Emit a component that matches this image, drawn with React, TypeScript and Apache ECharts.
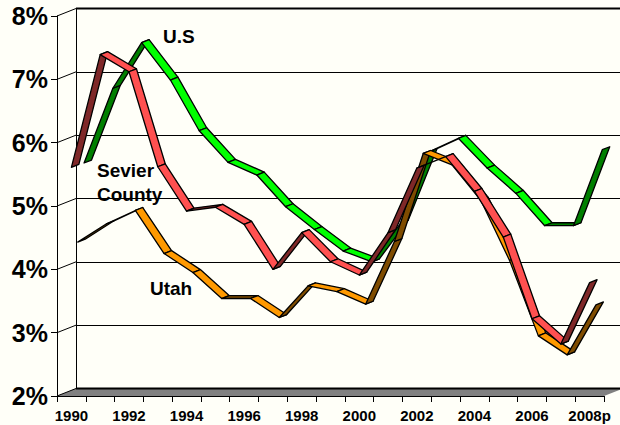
import React, { useEffect, useRef } from "react";
import * as echarts from "echarts";

const years = ["1990","1991","1992","1993","1994","1995","1996","1997","1998","1999","2000","2001","2002","2003","2004","2005","2006","2007","2008p"];
const sevier = [5.61,7.39,7.12,5.62,4.92,4.98,4.71,4.0,4.58,4.12,3.91,4.58,5.6,5.78,5.23,4.51,3.22,2.82,3.79];
const utah = [4.39,4.68,4.89,4.21,3.91,3.5,3.5,3.2,3.7,3.61,3.41,4.4,5.79,5.61,5.05,4.1,2.91,2.61,3.4];
const us = [5.6,6.78,7.5,6.91,6.11,5.61,5.41,4.91,4.55,4.21,4.04,4.65,5.78,5.99,5.52,5.12,4.61,4.61,5.81];
const yTicks = [2,3,4,5,6,7,8];

const BG = "#fffff8";
const DX = 19, DY = 7.5; // total chart depth
const SLOT = 3;
const WIDEN = 0.18; // ribbons are a little wider than their slot

function ribbon(name: string, values: number[], slot: number, bright: string, dark: string) {
  const a0 = slot / SLOT, a1 = (slot + 1 + WIDEN) / SLOT;
  return {
    type: "custom", name, xAxisIndex: 0, yAxisIndex: 0, clip: false, silent: true, z: 5,
    encode: { x: 0, y: 1 },
    data: values.slice(0, -1).map((v, i) => [i, v, values[i + 1]]),
    renderItem: (_p: any, api: any) => {
      const i = api.value(0);
      const v0 = api.value(1), v1 = api.value(2);
      const p0 = api.coord([i, v0]);
      const p1 = api.coord([i + 1, v1]);
      const pts = [
        [p0[0] + DX * a0, p0[1] - DY * a0],
        [p1[0] + DX * a0, p1[1] - DY * a0],
        [p1[0] + DX * a1, p1[1] - DY * a1],
        [p0[0] + DX * a1, p0[1] - DY * a1],
      ];
      return {
        type: "polygon",
        shape: { points: pts },
        style: { fill: v1 >= v0 ? dark : bright, stroke: "#000", lineWidth: 1.3, lineJoin: "round" },
      };
    },
  };
}

const wallSeries = {
  type: "custom", xAxisIndex: 0, yAxisIndex: 0, clip: false, silent: true, z: 1,
  encode: { x: 0, y: 1 },
  data: yTicks.map((v) => [0, v]),
  renderItem: (p: any, api: any) => {
    const cs = p.coordSys;
    const y = api.coord([0, api.value(1)])[1];
    const x = cs.x;
    const children: any[] = [
      { type: "line", shape: { x1: x, y1: y, x2: x + DX, y2: y - DY }, style: { stroke: "#000", lineWidth: 1 } },
    ];
    if (api.value(1) === 2) {
      children.unshift({
        type: "polygon",
        shape: { points: [[x, y], [x + DX, y - DY], [x + cs.width + DX, y - DY], [x + cs.width, y]] },
        style: { fill: "#808080", stroke: "none" },
      });
      children.push({ type: "line", shape: { x1: x + DX, y1: y - DY, x2: x + cs.width + DX, y2: y - DY }, style: { stroke: "#000", lineWidth: 2 } });
    }
    if (api.value(1) === 8) {
      children.push({ type: "line", shape: { x1: x + DX, y1: y - DY, x2: x + cs.width + DX, y2: y - DY }, style: { stroke: "#000", lineWidth: 2 } });
    }
    return { type: "group", children };
  },
};

const labelStyle = { fontFamily: "Liberation Sans", fontWeight: "bold", fontSize: 19, fill: "#000" };
const note = (text: string, x: number, y: number) => ({
  type: "text", x, y, z: 20,
  style: { ...labelStyle, text, textVerticalAlign: "middle" },
});

export default function App() {
  const ref = useRef<HTMLDivElement>(null);
  useEffect(() => {
    const chart = echarts.init(ref.current!, undefined, { renderer: "svg" });
    chart.setOption({
      animation: false,
      backgroundColor: BG,
      grid: [
        { left: 57, top: 16, width: 547, height: 380 },
        { left: 76, top: 8.5, width: 547, height: 380 },
      ],
      xAxis: [
        {
          type: "category", gridIndex: 0, data: years, boundaryGap: true,
          axisLine: { show: true, lineStyle: { color: "#000", width: 1 } },
          axisTick: { show: true, length: 6, interval: 0, alignWithLabel: false, lineStyle: { color: "#000" } },
          axisLabel: { interval: 1, margin: 12, fontFamily: "Liberation Sans", fontWeight: "bold", fontSize: 15, color: "#000" },
          splitLine: { show: false },
        },
        {
          type: "category", gridIndex: 1, data: years, show: false,
        },
      ],
      yAxis: [
        {
          type: "value", gridIndex: 0, min: 2, max: 8, interval: 1,
          axisLine: { show: true, lineStyle: { color: "#000", width: 1 } },
          axisTick: { show: true, length: 6, lineStyle: { color: "#000" } },
          axisLabel: { margin: 9, padding: [5, 0, 0, 0], formatter: "{value}%", fontFamily: "Liberation Sans", fontWeight: "bold", fontSize: 25, color: "#000" },
          splitLine: { show: false },
        },
        {
          type: "value", gridIndex: 1, min: 2, max: 8, interval: 1,
          axisLine: { show: true, lineStyle: { color: "#000", width: 1 } },
          axisTick: { show: false },
          axisLabel: { show: false },
          splitLine: { show: true, lineStyle: { color: "#000", width: 1 } },
        },
      ],
      series: [
        wallSeries,
        ribbon("U.S", us, 2, "#00ff00", "#007f00"),
        ribbon("Utah", utah, 1, "#ff9900", "#7f4c00"),
        ribbon("Sevier County", sevier, 0, "#ff5050", "#7f2828"),
      ],
      graphic: [
        note("U.S", 163, 36),
        note("Sevier", 97, 170),
        note("County", 97, 194),
        note("Utah", 150, 288),
      ],
    });
    return () => chart.dispose();
  }, []);
  return <div ref={ref} style={{ position: "absolute", left: 0, top: 0, width: 620, height: 425 }} />;
}
